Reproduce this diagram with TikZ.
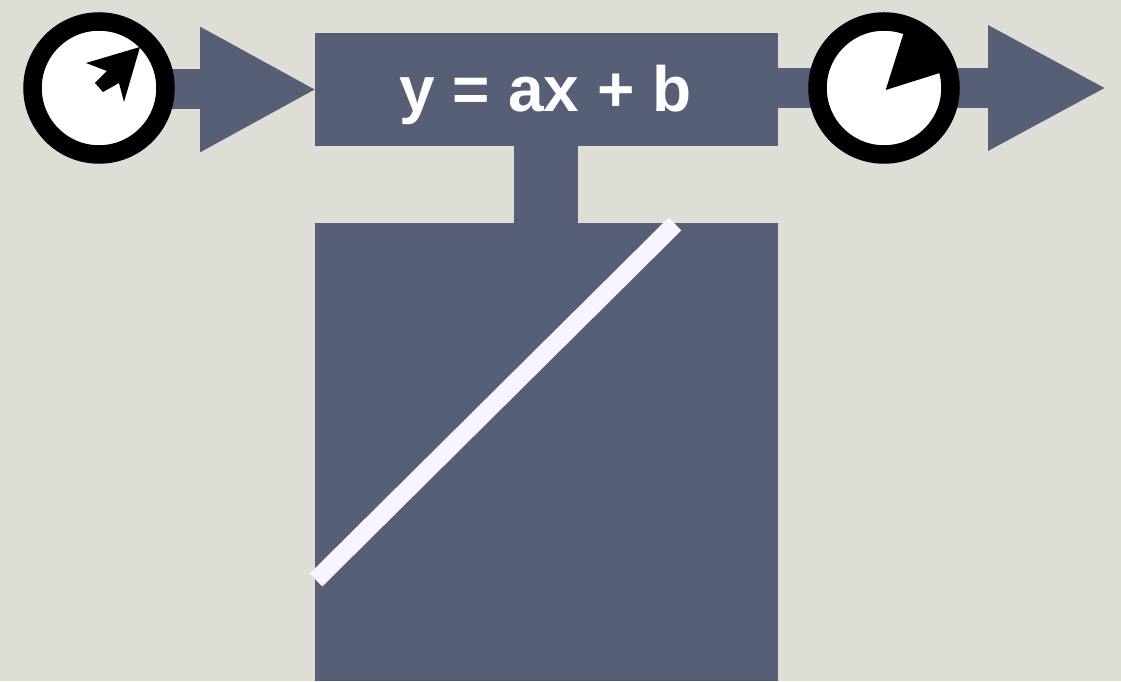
\documentclass[tikz,border=0pt]{standalone}
\usepackage{fontspec}
\setmainfont{Liberation Sans}
\usetikzlibrary{arrows.meta,positioning,backgrounds}
\definecolor{paper}{RGB}{222,222,215}
\definecolor{slate}{RGB}{86,95,117}
\definecolor{trace}{RGB}{248,245,255}
\tikzset{
  block/.style={fill=slate, inner sep=0pt, outer sep=0pt},
  dial/.style={circle, draw=black, fill=white, line width=18.5pt, minimum size=133pt, inner sep=0pt},
  flow/.style={draw=slate, line width=40pt, shorten >=-2pt, -{Triangle[length=#1,width=116.5pt]}}
}

\begin{document}
\begin{tikzpicture}[x=1pt,y=1pt]
  \useasboundingbox (0,0) rectangle (1121,681);
  \node[block, minimum width=463pt, minimum height=113pt] (eqbox) at (546.5,591.5) {};
  \node[font=\fontsize{64}{70}\selectfont\bfseries, text=white, inner sep=0pt] (eqtext) at (545.5,586.5) {y = ax + b};
  \node[block, minimum width=64pt, minimum height=77pt, below=0pt of eqbox, xshift=-0.5pt] (stem) {};
  \node[block, minimum width=463pt, minimum height=458pt, below=0pt of stem, xshift=0.5pt] (plotbox) {};
  \node[dial] (indial) at (99,593) {};
  \node[dial] (outdial) at (884,593) {};
  \coordinate (outend) at (1105,593);
  \begin{pgfonlayer}{background}
    \fill[paper] (0,0) rectangle (1121,681);
    \draw[flow=117pt] (indial.center |- eqbox.west) -- (eqbox.west);
    \draw[flow=119pt] (eqbox.east |- outend) -- (outend);
  \end{pgfonlayer}
  % plot line
  \coordinate (lineA) at (316,101);
  \coordinate (lineB) at (675,457);
  \draw[trace, line width=18pt] (lineA) -- (lineB);
  % pointer and wedge
  \fill[black, shift={(indial.center)}] (41,41) -- (-13,25) -- (8,17) -- (-4,5) -- (4,-4) -- (20,5) -- (25,-14) -- cycle;
  \fill[black] (885.7,591) -- +(17.5:62) arc[start angle=17.5, end angle=72.5, radius=62] -- cycle;
\end{tikzpicture}
\end{document}
